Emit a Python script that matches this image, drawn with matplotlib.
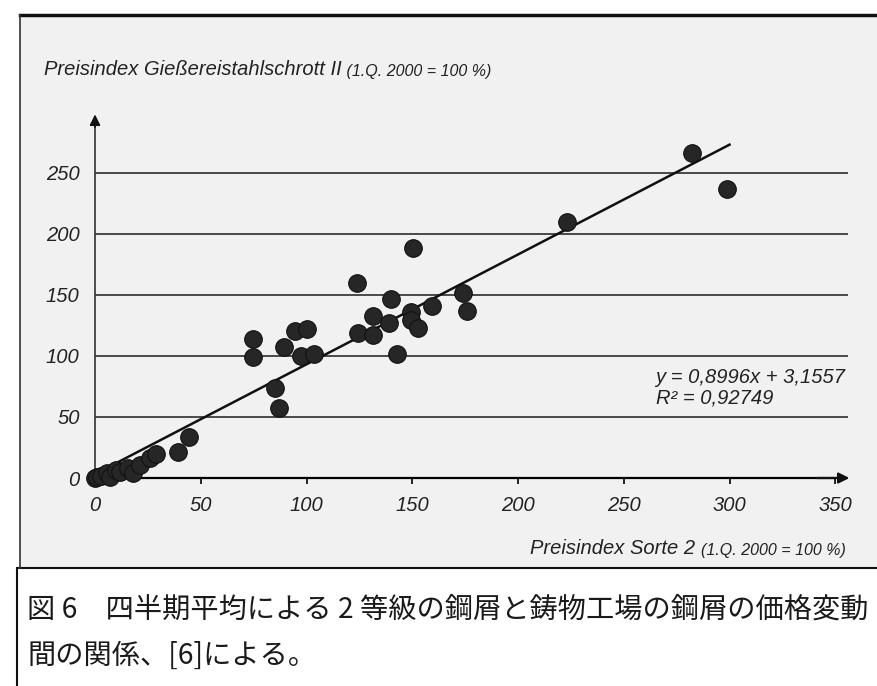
import matplotlib
matplotlib.use("Agg")
import matplotlib.pyplot as plt
from matplotlib.lines import Line2D
from matplotlib.patches import Rectangle

# scatter values (quarterly price indices)
sorte2 = [0, 1, 3, 5.5, 7, 10, 12, 15.8, 18, 21.3, 26, 29, 39.4, 44.4,
          74.6, 74.6, 85, 87.1, 89.4, 94.7, 97.5, 100.4, 103.5,
          123.7, 124.2, 131.3, 131.5, 139.2, 140, 142.6, 149.4, 149.4,
          150.5, 152.9, 159.5, 174.1, 175.7, 223, 282.1, 299]
giess = [0, 1, 2, 3.8, 1, 6.5, 5, 7.9, 4, 10.6, 16, 20, 21.5, 33.5,
         113.6, 98.8, 73.4, 57, 107, 120.4, 99.9, 121.8, 101.3,
         160, 118.8, 132.4, 117.1, 126.7, 146.3, 101.6, 136.2, 129.4,
         188.6, 122.6, 141.1, 151.8, 137, 209.9, 265.9, 236.4]

trend_x = [0, 300]
trend_y = [3.2, 273.0]

xticks = [0, 50, 100, 150, 200, 250, 300, 350]
yticks = [0, 50, 100, 150, 200, 250]
grid_y = [50, 100, 150, 200, 250]

eq_text = "y = 0,8996x + 3,1557\nR² = 0,92749"
ytitle = "Preisindex Gießereistahlschrott II"
xtitle = "Preisindex Sorte 2"
unit = "(1.Q. 2000 = 100 %)"
caption1 = "図 6　四半期平均による 2 等級の鋼屑と鋳物工場の鋼屑の価格変動"
caption2 = "間の関係、[6]による。"

W, H = 877, 686
fig = plt.figure(figsize=(W / 100, H / 100), dpi=100)
fig.patch.set_facecolor("white")


def fx(x):
    return x / W


def fy(y):
    return 1 - y / H


# paper background + frame
fig.add_artist(Rectangle((fx(20), fy(568)), fx(877) - fx(20), fy(15) - fy(568),
                         transform=fig.transFigure, facecolor="#f1f1f1", edgecolor="none", zorder=0))
fig.add_artist(Line2D([fx(20), fx(877)], [fy(15), fy(15)], transform=fig.transFigure,
                      color="#111111", lw=2.5))
fig.add_artist(Line2D([fx(20), fx(20)], [fy(15), fy(568)], transform=fig.transFigure,
                      color="#333333", lw=1.2))

sans = "Liberation Sans"

ax = fig.add_axes([0.08421, 0.2854, 0.9044, 0.5696])
ax.patch.set_alpha(0)
ax.set_xlim(-10, 365)
ax.set_ylim(-10, 310)

ax.hlines(grid_y, 0, 356, color="#3c3c3c", lw=1.3, zorder=1)
ax.plot(trend_x, trend_y, color="#111111", lw=1.8, zorder=2)
ax.scatter(sorte2, giess, s=160, c="#262626", edgecolors="#111111", linewidths=0.8,
           zorder=3, clip_on=False)

for side in ["top", "right"]:
    ax.spines[side].set_visible(False)
ax.spines["left"].set_position(("data", 0))
ax.spines["bottom"].set_position(("data", 0))
ax.spines["left"].set_bounds(0, 292)
ax.spines["bottom"].set_bounds(0, 350)
ax.spines["left"].set_color("#333333")
ax.spines["left"].set_linewidth(1.2)
ax.spines["bottom"].set_linewidth(1.6)
ax.annotate("", xy=(358, 0), xytext=(340, 0),
            arrowprops=dict(arrowstyle="-|>", color="#111111", lw=1.6, mutation_scale=16))
ax.annotate("", xy=(0, 300), xytext=(0, 285),
            arrowprops=dict(arrowstyle="-|>", color="#111111", lw=1.2, mutation_scale=16))

ax.set_xticks(xticks)
ax.set_xticklabels([str(t) for t in xticks])
ax.set_yticks(yticks)
ax.set_yticklabels([str(t) for t in yticks])
ax.tick_params(axis="x", length=4, width=1.2, pad=9, labelsize=14.5)
ax.tick_params(axis="y", length=0, pad=11, labelsize=14.5)
for lab in ax.get_xticklabels() + ax.get_yticklabels():
    lab.set_fontfamily(sans)
    lab.set_fontstyle("italic")
    lab.set_color("#222222")

ax.text(265, 58, eq_text, fontsize=14.5, family=sans, style="italic",
        color="#222222", va="bottom", ha="left", linespacing=1.05)

# axis titles
t1 = fig.text(fx(44), fy(75), ytitle, fontsize=14.5, family=sans, style="italic",
              color="#222222", va="baseline")
ax.annotate(" " + unit, xy=(1, 0), xycoords=t1, fontsize=11.5, family=sans,
            style="italic", color="#222222", va="bottom", annotation_clip=False)

t2 = fig.text(fx(846), fy(555), unit, fontsize=11.5, family=sans, style="italic",
              color="#222222", va="baseline", ha="right")
ax.annotate(xtitle + " ", xy=(0, 0), xycoords=t2, fontsize=14.5, family=sans,
            style="italic", color="#222222", va="bottom", ha="right", annotation_clip=False)

# caption box
fig.add_artist(Rectangle((fx(17), fy(700)), fx(900) - fx(17), fy(568) - fy(700),
                         transform=fig.transFigure, facecolor="white", edgecolor="#111111",
                         lw=1.5, zorder=1))
cjk = ["Noto Sans CJK JP", "DejaVu Sans"]
fig.text(fx(27), fy(610), caption1, fontsize=20.3, family=cjk, va="center", color="#1a1a1a")
fig.text(fx(27), fy(656), caption2, fontsize=20.3, family=cjk, va="center", color="#1a1a1a")

fig.savefig("out.png", dpi=100, facecolor=fig.get_facecolor())
